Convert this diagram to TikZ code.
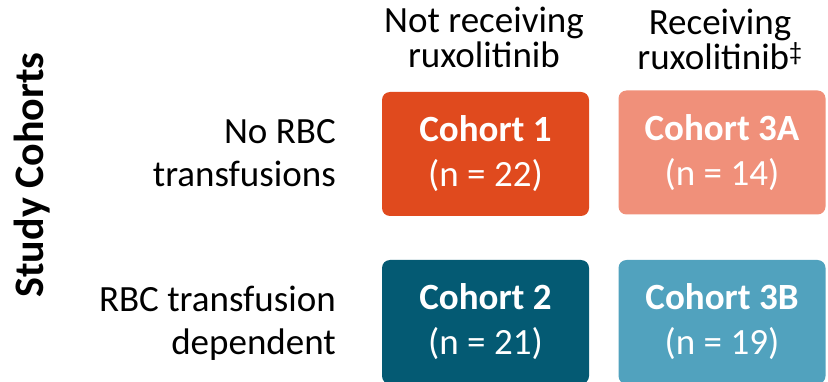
\documentclass[tikz,border=0pt]{standalone}
\usepackage{fontspec}
\setmainfont{Carlito}
\definecolor{cohortone}{HTML}{E04A1E}
\definecolor{cohortthreea}{HTML}{F0907A}
\definecolor{cohorttwo}{HTML}{045A73}
\definecolor{cohortthreeb}{HTML}{51A2BE}
\tikzset{
	cohort/.style={rounded corners=8pt, minimum width=207pt, minimum height=124pt, inner sep=0pt,
		text=white, align=center, font=\fontsize{37}{45}\selectfont},
	header/.style={align=center, anchor=base, inner sep=0pt, font=\fontsize{37}{35}\selectfont},
	rowlabel/.style={align=right, anchor=base east, inner sep=0pt, font=\fontsize{37}{43}\selectfont}
}

\begin{document}
\begin{tikzpicture}[x=1pt,y=-1pt]
		\useasboundingbox (0,0) rectangle (828,382);
		
		% cohort boxes
		\node[cohort, fill=cohortone] (coh1) at (485.5,154) {\textbf{Cohort 1}\\(n = 22)};
		\node[cohort, fill=cohortthreea] (coh3a) at (722,152.5) {\textbf{Cohort 3A}\\(n = 14)};
		\node[cohort, fill=cohorttwo] (coh2) at (485.5,322) {\textbf{Cohort 2}\\(n = 21)};
		\node[cohort, fill=cohortthreeb] (coh3b) at (722,322) {\textbf{Cohort 3B}\\(n = 19)};
		
		% column headers (base = last line)
		\node[header] (notrux) at (484,68) {Not receiving\\ruxolitinib};
		\node[header] (rux) at (720,70) {Receiving\\ruxolitinib\textsuperscript{‡}};
		
		% row labels
		\node[rowlabel] (norbc) at (336,187) {No RBC\\transfusions};
		\node[rowlabel] (rbcdep) at (336,354) {RBC transfusion\\dependent};
		
		\node[rotate=90, anchor=base, inner sep=0pt, font=\fontsize{42}{48}\selectfont\bfseries] (study) at (43,175) {Study Cohorts};
	\end{tikzpicture}
\end{document}
